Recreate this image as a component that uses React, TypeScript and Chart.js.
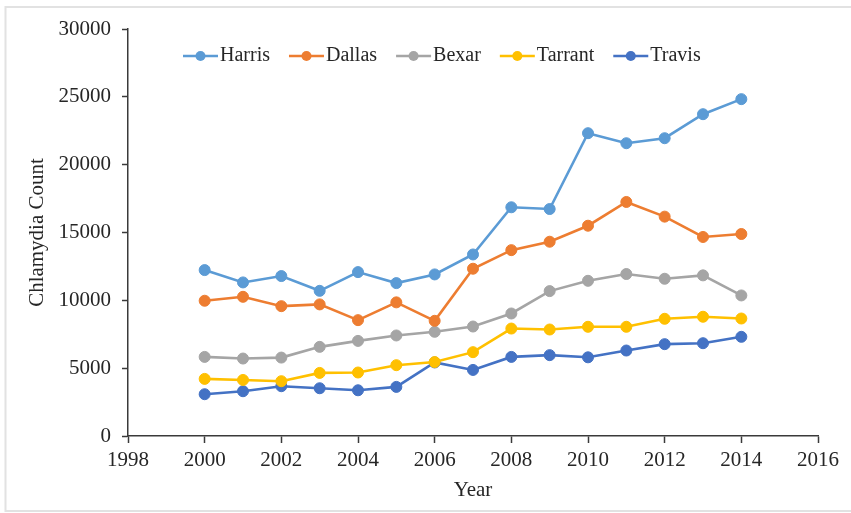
import { useEffect, useRef } from "react";
import { Chart, registerables } from "chart.js";

Chart.register(...registerables);

// Annual chlamydia counts for the five largest Texas counties
const years = [2000, 2001, 2002, 2003, 2004, 2005, 2006, 2007, 2008, 2009, 2010, 2011, 2012, 2013, 2014];
const harris = [12230, 11320, 11790, 10700, 12080, 11270, 11910, 13380, 16860, 16730, 22320, 21580, 21950, 23720, 24830];
const dallas = [9970, 10260, 9570, 9700, 8540, 9850, 8490, 12330, 13700, 14320, 15500, 17250, 16170, 14670, 14890];
const bexar = [5830, 5710, 5780, 6570, 7010, 7410, 7680, 8070, 9030, 10680, 11440, 11940, 11590, 11840, 10360];
const tarrant = [4210, 4130, 4040, 4650, 4680, 5220, 5450, 6180, 7920, 7850, 8050, 8050, 8640, 8790, 8660];
const travis = [3080, 3300, 3670, 3520, 3370, 3620, 5420, 4870, 5830, 5960, 5800, 6300, 6770, 6840, 7310];

const countyNames = ["Harris", "Dallas", "Bexar", "Tarrant", "Travis"];
const countySeries = [harris, dallas, bexar, tarrant, travis];
const countyColors = ["#5B9BD5", "#ED7D31", "#A5A5A5", "#FFC000", "#4472C4"];

const yearMin = 1998;
const yearMax = 2016;
const yearStep = 2;
const countMin = 0;
const countMax = 30000;
const countStep = 5000;

const SERIF = "'Liberation Serif', 'Times New Roman', serif";
const AXIS = "#3a3a3a";
const TEXT = "#262626";

// White page with a thin light frame along the top, left and bottom edges
const framePlugin = {
  id: "frame",
  beforeDraw(chart: any) {
    const { ctx, width, height } = chart;
    ctx.save();
    ctx.fillStyle = "#ffffff";
    ctx.fillRect(0, 0, width, height);
    ctx.strokeStyle = "#e2e2e2";
    ctx.lineWidth = 2;
    ctx.beginPath();
    ctx.moveTo(width, 7);
    ctx.lineTo(5.5, 7);
    ctx.lineTo(5.5, height - 2);
    ctx.lineTo(width, height - 2);
    ctx.stroke();
    ctx.restore();
  },
};

// Horizontal legend drawn inside the plot, line-and-marker swatches
const inlineLegendPlugin = {
  id: "inlineLegend",
  afterDraw(chart: any) {
    const { ctx, chartArea } = chart;
    ctx.save();
    ctx.font = `20px ${SERIF}`;
    ctx.textBaseline = "middle";
    ctx.textAlign = "left";
    const y = chartArea.top + 27;
    let x = chartArea.left + 55;
    const swatch = 35;
    chart.data.datasets.forEach((ds: any) => {
      ctx.strokeStyle = ds.borderColor;
      ctx.lineWidth = 2.5;
      ctx.beginPath();
      ctx.moveTo(x, y);
      ctx.lineTo(x + swatch, y);
      ctx.stroke();
      ctx.fillStyle = ds.borderColor;
      ctx.beginPath();
      ctx.arc(x + swatch / 2, y, 5, 0, Math.PI * 2);
      ctx.fill();
      ctx.fillStyle = TEXT;
      ctx.fillText(ds.label, x + swatch + 2, y);
      x += swatch + 2 + ctx.measureText(ds.label).width + 19;
    });
    ctx.restore();
  },
};

export default function App() {
  const canvasRef = useRef<HTMLCanvasElement | null>(null);

  useEffect(() => {
    document.body.style.margin = "0";
    const canvas = canvasRef.current;
    if (!canvas) return;

    const datasets = countyNames.map((name, i) => ({
      label: name,
      data: years.map((yr, j) => ({ x: yr, y: countySeries[i][j] })),
      borderColor: countyColors[i],
      backgroundColor: countyColors[i],
      pointBackgroundColor: countyColors[i],
      pointBorderColor: countyColors[i],
      borderWidth: 2.6,
      pointRadius: 5.5,
      pointBorderWidth: 1,
      tension: 0,
    }));

    const chart = new Chart(canvas, {
      type: "line",
      data: { datasets },
      options: {
        responsive: false,
        animation: false,
        devicePixelRatio: 1,
        layout: { padding: { left: 0, top: 29, right: 33, bottom: 0 } },
        plugins: {
          legend: { display: false },
          tooltip: { enabled: false },
        },
        font: { family: SERIF },
        scales: {
          x: {
            type: "linear",
            min: yearMin,
            max: yearMax,
            afterFit(scale: any) {
              scale.height = 77;
            },
            ticks: {
              stepSize: yearStep,
              color: TEXT,
              padding: 5,
              font: { family: SERIF, size: 21 },
              callback: (v: any) => String(v),
            },
            grid: {
              display: true,
              drawOnChartArea: false,
              drawTicks: true,
              tickLength: 7,
              tickColor: AXIS,
              tickWidth: 1.5,
            },
            border: { display: true, color: AXIS, width: 1.5 },
            title: {
              display: true,
              text: "Year",
              color: TEXT,
              font: { family: SERIF, size: 21 },
              padding: { top: 0, bottom: 10 },
            },
          },
          y: {
            type: "linear",
            min: countMin,
            max: countMax,
            afterFit(scale: any) {
              scale.width = 128;
            },
            ticks: {
              stepSize: countStep,
              color: TEXT,
              padding: 11,
              font: { family: SERIF, size: 21 },
              callback: (v: any) => String(v),
            },
            grid: {
              display: true,
              drawOnChartArea: false,
              drawTicks: true,
              tickLength: 6,
              tickColor: AXIS,
              tickWidth: 1.5,
            },
            border: { display: true, color: AXIS, width: 1.5 },
            title: {
              display: true,
              text: "Chlamydia Count",
              color: TEXT,
              font: { family: SERIF, size: 21 },
              padding: { top: 25, bottom: 0 },
            },
          },
        },
      },
      plugins: [framePlugin, inlineLegendPlugin],
    } as any);

    return () => chart.destroy();
  }, []);

  return (
    <canvas
      ref={canvasRef}
      width={851}
      height={513}
      style={{ display: "block", width: 851, height: 513 }}
    />
  );
}
